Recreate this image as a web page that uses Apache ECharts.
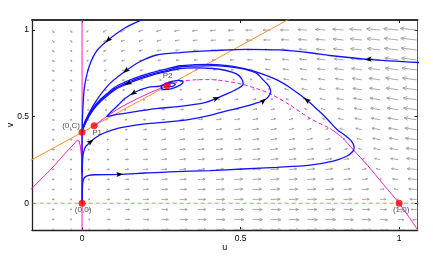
<!DOCTYPE html>
<html><head><meta charset="utf-8">
<script src="https://cdn.jsdelivr.net/npm/echarts@6/dist/echarts.min.js"></script>
<style>html,body{margin:0;padding:0;background:#fff}#c{width:433px;height:258px}</style>
</head><body><div id="c"></div>
<script>
// ---------- data ----------
const tickValues = [0, 0.5, 1];
// vector-field grid
const gridU = [-0.095,-0.0375,0.02,0.0775,0.135,0.1925,0.25,0.3075,0.365,0.4225,0.48,0.5375,0.595,0.6525,0.71,0.7675,0.825,0.8825,0.94,0.9975,1.055];
const gridV = [-0.15,-0.0925,-0.035,0.0225,0.08,0.1375,0.195,0.2525,0.31,0.3675,0.425,0.4825,0.54,0.5975,0.655,0.7125,0.77,0.8275,0.885,0.9425,1.0];
// relative horizontal arrow component, one list per grid column (bottom row first)
const speedU = [
 [0.15,0.15,0.15,0.15,0.15,0.15,0.15,0.15,0.15,0.15,0.15,0.15,0.15,0.15,0.15,0.15,0.15,0.15,0.15,0.15,0.15],
 [0.12,0.12,0.12,0.12,0.12,0.12,0.12,0.12,0.12,0.12,0.12,0.12,0.12,0.12,0.12,0.12,0.12,0.12,0.12,0.12,0.12],
 [0.12,0.11,0.11,0.10,0.09,0.09,0.08,0.07,0.06,0.04,0,-0.04,-0.06,-0.07,-0.08,-0.09,-0.1,-0.1,-0.11,-0.11,-0.12],
 [0.25,0.24,0.23,0.22,0.21,0.19,0.18,0.16,0.14,0.12,0.09,0.04,-0.08,-0.11,-0.13,-0.16,-0.17,-0.19,-0.2,-0.21,-0.23],
 [0.34,0.33,0.32,0.30,0.29,0.27,0.25,0.23,0.21,0.19,0.16,0.13,0.07,-0.09,-0.14,-0.17,-0.20,-0.22,-0.24,-0.26,-0.28],
 [0.42,0.40,0.39,0.37,0.36,0.34,0.32,0.30,0.28,0.25,0.23,0.19,0.15,0.09,-0.10,-0.16,-0.20,-0.23,-0.26,-0.28,-0.30],
 [0.48,0.47,0.45,0.43,0.42,0.40,0.38,0.36,0.33,0.31,0.28,0.25,0.21,0.16,0.07,-0.13,-0.19,-0.23,-0.27,-0.30,-0.32],
 [0.54,0.53,0.51,0.49,0.47,0.45,0.43,0.41,0.38,0.36,0.33,0.29,0.26,0.21,0.14,-0.08,-0.18,-0.23,-0.27,-0.31,-0.34],
 [0.59,0.57,0.55,0.53,0.51,0.49,0.47,0.44,0.42,0.39,0.36,0.32,0.28,0.24,0.17,-0.04,-0.18,-0.24,-0.29,-0.33,-0.36],
 [0.63,0.61,0.59,0.57,0.55,0.53,0.50,0.48,0.45,0.42,0.38,0.35,0.30,0.25,0.18,-0.05,-0.19,-0.26,-0.31,-0.35,-0.39],
 [0.66,0.64,0.62,0.60,0.58,0.55,0.53,0.50,0.47,0.44,0.40,0.36,0.31,0.26,0.18,-0.10,-0.22,-0.28,-0.33,-0.38,-0.42],
 [0.69,0.67,0.65,0.62,0.60,0.57,0.54,0.51,0.48,0.44,0.40,0.36,0.31,0.24,0.13,-0.17,-0.26,-0.32,-0.37,-0.42,-0.45],
 [0.70,0.68,0.65,0.63,0.60,0.57,0.54,0.50,0.47,0.42,0.38,0.32,0.25,0.14,-0.17,-0.27,-0.34,-0.39,-0.43,-0.47,-0.51],
 [0.70,0.68,0.65,0.62,0.59,0.56,0.52,0.48,0.44,0.39,0.33,0.26,0.14,-0.19,-0.29,-0.35,-0.41,-0.45,-0.50,-0.53,-0.57],
 [0.71,0.68,0.65,0.62,0.58,0.55,0.51,0.46,0.41,0.36,0.28,0.17,-0.18,-0.29,-0.36,-0.42,-0.47,-0.51,-0.55,-0.59,-0.62],
 [0.71,0.68,0.64,0.61,0.57,0.53,0.48,0.43,0.37,0.30,0.18,-0.18,-0.29,-0.37,-0.43,-0.48,-0.53,-0.57,-0.61,-0.64,-0.67],
 [0.68,0.65,0.61,0.57,0.52,0.47,0.42,0.35,0.26,0.06,-0.25,-0.34,-0.41,-0.47,-0.52,-0.56,-0.61,-0.64,-0.68,-0.71,-0.74],
 [0.64,0.60,0.55,0.50,0.45,0.38,0.29,0.15,-0.22,-0.33,-0.41,-0.47,-0.52,-0.57,-0.61,-0.65,-0.69,-0.73,-0.76,-0.79,-0.82],
 [0.56,0.50,0.44,0.37,0.27,0.07,-0.26,-0.36,-0.44,-0.50,-0.55,-0.60,-0.64,-0.68,-0.72,-0.75,-0.79,-0.82,-0.85,-0.88,-0.91],
 [0.44,0.36,0.26,-0.11,-0.29,-0.39,-0.46,-0.52,-0.58,-0.62,-0.67,-0.71,-0.75,-0.78,-0.82,-0.85,-0.88,-0.91,-0.94,-0.96,-0.99],
 [0.13,-0.26,-0.37,-0.45,-0.52,-0.57,-0.63,-0.67,-0.71,-0.75,-0.79,-0.83,-0.86,-0.89,-0.92,-0.95,-0.98,-1.01,-1.03,-1.06,-1.08]
];
// relative vertical arrow component, one list per grid row (left column first)
const speedV = [
 [-0.02,-0.02,-0.02,-0.02,-0.03,-0.03,-0.03,-0.03,-0.03,-0.04,-0.04,-0.04,-0.04,-0.05,-0.05,-0.05,-0.05,-0.05,-0.06,-0.06,-0.06],
 [-0.01,-0.01,-0.01,-0.01,-0.01,-0.02,-0.02,-0.02,-0.02,-0.02,-0.02,-0.02,-0.03,-0.03,-0.03,-0.03,-0.03,-0.03,-0.03,-0.03,-0.04],
 [0,0,0,0,-0.01,-0.01,-0.01,-0.01,-0.01,-0.01,-0.01,-0.01,-0.01,-0.01,-0.01,-0.01,-0.01,-0.01,-0.01,-0.01,-0.01],
 [0,0,0,0,0,0,0,0,0,0,0.01,0.01,0.01,0.01,0.01,0.01,0.01,0.01,0.01,0.01,0.01],
 [0,0.01,0.01,0.01,0.01,0.01,0.01,0.01,0.01,0.02,0.02,0.02,0.02,0.02,0.02,0.02,0.02,0.02,0.03,0.03,0.03],
 [0.01,0.01,0.01,0.01,0.01,0.02,0.02,0.02,0.02,0.02,0.03,0.03,0.03,0.03,0.03,0.04,0.04,0.04,0.04,0.04,0.05],
 [0.01,0.01,0.01,0.01,0.02,0.02,0.02,0.03,0.03,0.03,0.03,0.04,0.04,0.04,0.05,0.05,0.05,0.05,0.06,0.06,0.06],
 [0,0.01,0.01,0.01,0.02,0.02,0.03,0.03,0.03,0.04,0.04,0.04,0.05,0.05,0.05,0.06,0.06,0.07,0.07,0.07,0.08],
 [0,0,0.01,0.01,0.02,0.02,0.03,0.03,0.04,0.04,0.04,0.05,0.05,0.06,0.06,0.07,0.07,0.08,0.08,0.08,0.09],
 [-0.01,0,0.01,0.01,0.02,0.02,0.03,0.03,0.04,0.04,0.05,0.05,0.06,0.06,0.07,0.07,0.08,0.08,0.09,0.1,0.1],
 [-0.01,-0.01,0,0.01,0.01,0.02,0.02,0.03,0.04,0.04,0.05,0.05,0.06,0.07,0.07,0.08,0.09,0.09,0.1,0.1,0.11],
 [-0.02,-0.01,-0.01,0,0.01,0.01,0.02,0.03,0.04,0.04,0.05,0.06,0.06,0.07,0.08,0.08,0.09,0.1,0.1,0.11,0.12],
 [-0.03,-0.02,-0.02,-0.01,0,0.01,0.02,0.02,0.03,0.04,0.05,0.05,0.06,0.07,0.08,0.09,0.09,0.1,0.11,0.12,0.12],
 [-0.04,-0.03,-0.03,-0.02,-0.01,0,0.01,0.02,0.03,0.03,0.04,0.05,0.06,0.07,0.08,0.09,0.09,0.1,0.11,0.12,0.13],
 [-0.06,-0.05,-0.04,-0.03,-0.02,-0.01,0,0.01,0.02,0.03,0.04,0.05,0.06,0.07,0.08,0.09,0.1,0.1,0.11,0.12,0.13],
 [-0.07,-0.06,-0.05,-0.04,-0.03,-0.02,-0.01,0,0.01,0.02,0.03,0.04,0.05,0.06,0.07,0.08,0.09,0.1,0.11,0.12,0.13],
 [-0.09,-0.08,-0.07,-0.06,-0.04,-0.03,-0.02,-0.01,0,0.01,0.02,0.03,0.04,0.06,0.07,0.08,0.09,0.1,0.11,0.12,0.13],
 [-0.11,-0.1,-0.08,-0.07,-0.06,-0.05,-0.04,-0.02,-0.01,0,0.01,0.02,0.04,0.05,0.06,0.07,0.08,0.1,0.11,0.12,0.13],
 [-0.13,-0.11,-0.1,-0.09,-0.08,-0.06,-0.05,-0.04,-0.03,-0.01,0,0.01,0.03,0.04,0.05,0.06,0.08,0.09,0.1,0.11,0.13],
 [-0.15,-0.14,-0.12,-0.11,-0.09,-0.08,-0.07,-0.05,-0.04,-0.03,-0.01,0,0.01,0.03,0.04,0.05,0.07,0.08,0.09,0.11,0.12],
 [-0.17,-0.16,-0.14,-0.13,-0.12,-0.1,-0.09,-0.07,-0.06,-0.04,-0.03,-0.01,0,0.01,0.03,0.04,0.06,0.07,0.09,0.1,0.12]
];
// nullclines
const vNullZeroU = [-0.2, 1.1];
const vNullZeroV = [0, 0];
const vNullLineU = [-0.2, 0.7];
const vNullLineV = [0.21, 1.11];
const uNullAxisU = [0, 0];
const uNullAxisV = [-0.2, 1.1];
const uNullLeft = [[-0.17,0.068],[-0.158,0.087],[-0.102,0.189],[-0.055,0.285],[-0.029,0.336],[-0.017,0.362],[-0.0095,0.36],[-0.0057,0.331],[-0.0025,0.279],[-0.0009,0.221],[0,0.163]];
const uNullStable1 = [[0.038,0.448],[0.077,0.500],[0.12,0.552],[0.17,0.600],[0.22,0.643],[0.268,0.679]];
const uNullUnstable = [[0.268,0.679],[0.31,0.703],[0.36,0.713],[0.403,0.714],[0.45,0.706],[0.508,0.686],[0.55,0.662],[0.593,0.633],[0.656,0.567],[0.719,0.49],[0.782,0.433]];
const uNullStable2 = [[0.782,0.433],[0.82,0.38],[0.856,0.308],[0.9,0.22],[0.95,0.11],[1.0,0.0],[1.065,-0.17]];
// trajectories
const trajAxis = [[0,0],[0,0.41]];
const trajT1 = [[0.19,1.06],[0.135,1.012],[0.082,0.942],[0.046,0.879],[0.0275,0.815],[0.016,0.750],[0.007,0.665],[0.003,0.567],[0.001,0.481],[0,0.41]];
const trajT2 = [[1.07,0.812],[0.902,0.831],[0.782,0.853],[0.719,0.869],[0.624,0.885],[0.519,0.889],[0.414,0.881],[0.309,0.870],[0.235,0.856],[0.182,0.817],[0.138,0.765],[0.088,0.692],[0.046,0.596],[0.016,0.500],[0.003,0.442],[0,0.41]];
const trajB = [[0.0003,0.019],[0.0006,0.048],[0.0013,0.100],[0.0032,0.129],[0.0079,0.149],[0.018,0.160],[0.040,0.165],[0.119,0.167],[0.198,0.175],[0.277,0.182],[0.403,0.189],[0.507,0.198],[0.615,0.208],[0.719,0.221],[0.792,0.244],[0.833,0.270],[0.855,0.302],[0.858,0.325],[0.849,0.360],[0.830,0.391],[0.804,0.426],[0.776,0.481],[0.744,0.538],[0.709,0.596],[0.662,0.660],[0.615,0.712],[0.561,0.752],[0.508,0.779],[0.451,0.796],[0.403,0.802],[0.356,0.800],[0.309,0.794],[0.271,0.777],[0.214,0.751],[0.166,0.722],[0.135,0.699],[0.103,0.670],[0.078,0.632],[0.056,0.597],[0.037,0.556],[0.021,0.508],[0.010,0.467],[0.003,0.433],[0,0.41]];
const trajC = [[0.0003,0.181],[0.0016,0.250],[0.0047,0.296],[0.0117,0.328],[0.0275,0.356],[0.0433,0.380],[0.0654,0.403],[0.094,0.423],[0.140,0.442],[0.198,0.458],[0.277,0.471],[0.340,0.484],[0.403,0.507],[0.466,0.538],[0.508,0.557],[0.545,0.576],[0.572,0.592],[0.588,0.616],[0.595,0.644],[0.591,0.671],[0.582,0.692],[0.567,0.720],[0.551,0.750],[0.523,0.769],[0.498,0.779],[0.451,0.791],[0.413,0.795],[0.356,0.792],[0.309,0.787],[0.271,0.769],[0.214,0.743],[0.166,0.714],[0.135,0.691],[0.103,0.662],[0.078,0.625],[0.056,0.590],[0.037,0.550],[0.021,0.504],[0.010,0.463],[0.003,0.432],[0,0.41]];
const trajD = [[0.268,0.679],[0.283,0.674],[0.294,0.686],[0.283,0.695],[0.261,0.686],[0.249,0.668],[0.258,0.656],[0.280,0.660],[0.309,0.682],[0.319,0.702],[0.305,0.710],[0.274,0.699],[0.245,0.677],[0.208,0.669],[0.166,0.641],[0.135,0.605],[0.114,0.567],[0.094,0.533],[0.077,0.500],[0.103,0.511],[0.135,0.519],[0.182,0.533],[0.240,0.548],[0.309,0.559],[0.387,0.581],[0.424,0.606],[0.460,0.634],[0.489,0.660],[0.504,0.677],[0.508,0.692],[0.503,0.720],[0.488,0.746],[0.451,0.768],[0.414,0.778],[0.356,0.782],[0.309,0.778],[0.271,0.762],[0.214,0.736],[0.166,0.707],[0.135,0.684],[0.103,0.655],[0.078,0.618],[0.056,0.583],[0.037,0.544],[0.021,0.499],[0.010,0.460],[0.003,0.430],[0,0.41]];
// direction markers on trajectories: [u, v, du, dv]
const flowArrows = [
 [0.082,0.942,-0.036,-0.063],
 [0.138,0.765,-0.05,-0.073],
 [0.902,0.831,-0.12,-0.02],
 [0.145,0.692,-0.03,-0.03],
 [0.161,0.635,-0.03,-0.036],
 [0.424,0.606,0.036,0.028],
 [0.572,0.592,0.016,0.024],
 [0.0275,0.356,0.02,0.03],
 [0.119,0.167,0.08,0.004],
 [0.709,0.596,-0.046,0.064]
];
// equilibria
const pointNames = ['(0,0)', '(0,C)', 'P1', 'P2', '(1,0)'];
const pointU = [0, 0, 0.038, 0.268, 1];
const pointV = [0, 0.41, 0.448, 0.679, 0];

// ---------- styles ----------
const labelOffsets = [[1,6],[-11,-6],[3,7.5],[0.5,-9.5],[2,6]];
const arrowScaleU = 0.047, arrowScaleV = 0.087;
const BLUE = '#1212ff', MAG = '#f21ec6', ORG = '#f8902a', GREY = '#a0a0a0';

const fieldData = [];
for (let i = 0; i < gridU.length; i++)
  for (let j = 0; j < gridV.length; j++)
    fieldData.push([gridU[i], gridV[j], speedU[i][j], speedV[j][i]]);

function pairs(us, vs){ return us.map((u,k)=>[u, vs[k]]); }

const chart = echarts.init(document.getElementById('c'), null, {renderer:'canvas'});
const XMIN=-0.158, XMAX=1.058, YMIN=-0.154, YMAX=1.058;
const axisLine = {onZero:false, lineStyle:{color:'#222', width:1.3}};
const fontFam = 'Liberation Sans, Arial, sans-serif';

function lineSeries(data, color, opts){
  return Object.assign({type:'line', data:data, symbol:'none', silent:true, animation:false, clip:true,
    lineStyle:{color:color, width:1}}, opts||{});
}

const option = {
  animation:false,
  grid:{left:32, right:15.5, top:20, bottom:28, containLabel:false, outerBoundsMode:'none'},
  xAxis:[
    {type:'value', min:XMIN, max:XMAX, position:'bottom', name:'u', nameLocation:'middle', nameGap:13, nameMoveOverlap:false,
     nameTextStyle:{fontSize:9, color:'#000', fontFamily:fontFam},
     axisLine:axisLine, splitLine:{show:false},
     axisTick:{inside:true, length:3, customValues:tickValues, lineStyle:{color:'#222'}},
     axisLabel:{customValues:tickValues, fontSize:8.5, color:'#000', margin:4, fontFamily:fontFam}},
    {type:'value', min:XMIN, max:XMAX, position:'top',
     axisLine:{onZero:false, lineStyle:{color:'#333', width:2}}, splitLine:{show:false},
     axisTick:{inside:true, length:3, customValues:tickValues, lineStyle:{color:'#222'}},
     axisLabel:{show:false}}
  ],
  yAxis:[
    {type:'value', min:YMIN, max:YMAX, position:'left', name:'v', nameLocation:'middle', nameGap:17, nameRotate:90, nameMoveOverlap:false,
     nameTextStyle:{fontSize:9, color:'#000', fontFamily:fontFam},
     axisLine:axisLine, splitLine:{show:false},
     axisTick:{inside:true, length:3, customValues:tickValues, lineStyle:{color:'#222'}},
     axisLabel:{customValues:tickValues, fontSize:8.5, color:'#000', margin:3, fontFamily:fontFam}},
    {type:'value', min:YMIN, max:YMAX, position:'right',
     axisLine:{onZero:false, lineStyle:{color:'#555', width:1}}, splitLine:{show:false},
     axisTick:{inside:true, length:3, customValues:tickValues, lineStyle:{color:'#222'}},
     axisLabel:{show:false}}
  ],
  series:[
    {type:'custom', data:fieldData, encode:{x:0, y:1}, clip:true, silent:true, z:1,
     renderItem:function(params, api){
       const u=api.value(0), v=api.value(1), fu=api.value(2), fv=api.value(3);
       const p0=api.coord([u,v]);
       const p1=api.coord([u+fu*arrowScaleU, v+fv*arrowScaleV]);
       const dx=p1[0]-p0[0], dy=p1[1]-p0[1];
       const L=Math.sqrt(dx*dx+dy*dy);
       if (L<0.4) return {type:'circle', shape:{cx:p0[0], cy:p0[1], r:0.5}, style:{fill:GREY}};
       const ux=dx/L, uy=dy/L, h=Math.min(4.2, Math.max(1.6, L*0.33)), a=0.45, c=Math.cos(a), s=Math.sin(a);
       const bx=-ux, by=-uy;
       const l1=[p1[0]+h*(bx*c-by*s), p1[1]+h*(bx*s+by*c)];
       const l2=[p1[0]+h*(bx*c+by*s), p1[1]+h*(-bx*s+by*c)];
       return {type:'group', children:[
         {type:'line', shape:{x1:p0[0],y1:p0[1],x2:p1[0],y2:p1[1]}, style:{stroke:GREY, lineWidth:0.9}},
         {type:'polyline', shape:{points:[l1,p1,l2]}, style:{stroke:GREY, lineWidth:0.9, fill:null}}
       ]};
     }},
    lineSeries(pairs(vNullZeroU, vNullZeroV), ORG, {z:3, lineStyle:{color:ORG, width:1.1, type:[4,3]}}),
    lineSeries(pairs(vNullLineU, vNullLineV), ORG, {z:3}),
    lineSeries(pairs(uNullAxisU, uNullAxisV), MAG, {z:3}),
    lineSeries(uNullLeft, MAG, {z:3}),
    lineSeries(uNullStable1, MAG, {z:3, smooth:0.3}),
    lineSeries(uNullUnstable, MAG, {z:3, smooth:0.3, lineStyle:{color:MAG, width:1, type:[4,2.5]}}),
    lineSeries(uNullStable2, MAG, {z:3, smooth:0.3}),
    lineSeries(trajAxis, BLUE, {z:5, lineStyle:{color:BLUE, width:1.4}}),
    lineSeries(trajT1, BLUE, {z:5, smooth:0.3, lineStyle:{color:BLUE, width:1.3}}),
    lineSeries(trajT2, BLUE, {z:5, smooth:0.3, lineStyle:{color:BLUE, width:1.3}}),
    lineSeries(trajB, BLUE, {z:5, smooth:0.3, lineStyle:{color:BLUE, width:1.3}}),
    lineSeries(trajC, BLUE, {z:5, smooth:0.3, lineStyle:{color:BLUE, width:1.3}}),
    lineSeries(trajD, BLUE, {z:5, smooth:0.3, lineStyle:{color:BLUE, width:1.3}}),
    {type:'custom', data:flowArrows, encode:{x:0, y:1}, clip:true, silent:true, z:6,
     renderItem:function(params, api){
       const p=api.coord([api.value(0), api.value(1)]);
       const q=api.coord([api.value(0)+api.value(2), api.value(1)+api.value(3)]);
       let dx=q[0]-p[0], dy=q[1]-p[1]; const L=Math.sqrt(dx*dx+dy*dy); dx/=L; dy/=L;
       const nx=-dy, ny=dx;
       const tip=[p[0]+3.5*dx, p[1]+3.5*dy];
       const b1=[p[0]-3.5*dx+2.6*nx, p[1]-3.5*dy+2.6*ny];
       const b2=[p[0]-3.5*dx-2.6*nx, p[1]-3.5*dy-2.6*ny];
       const notch=[p[0]-2*dx, p[1]-2*dy];
       return {type:'polygon', shape:{points:[tip,b1,notch,b2]}, style:{fill:'#000'}};
     }},
    {type:'scatter', z:8, silent:true, symbol:'circle', symbolSize:7,
     itemStyle:{color:'#ff0000'},
     data:pointNames.map((n,k)=>({name:n, value:[pointU[k], pointV[k]],
       label:{show:true, position:'inside', offset:labelOffsets[k], formatter:n,
              fontSize:8, color:'#1a1a1a', fontFamily:fontFam}}))}
  ]
};
chart.setOption(option);
</script></body></html>
